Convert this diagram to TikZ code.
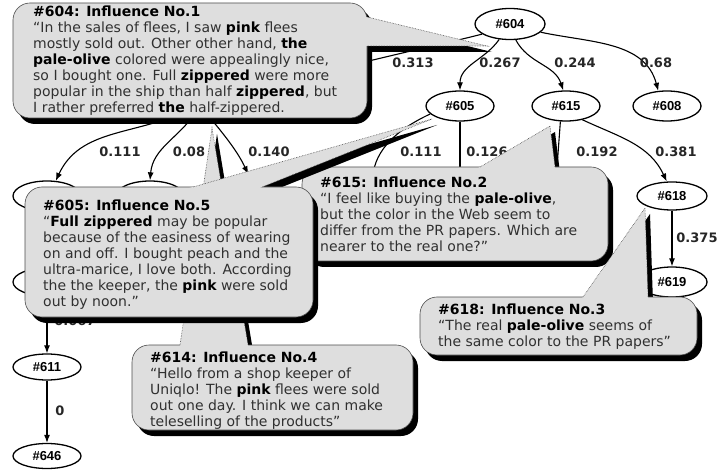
\documentclass[tikz,border=0pt]{standalone}
\usepackage{fontspec}
\setmainfont{DejaVu Sans}
\newfontfamily\labelfont{Liberation Sans}
\usetikzlibrary{arrows.meta,shapes.geometric,calc}
\definecolor{calloutgray}{RGB}{222,222,222}
\definecolor{bodytext}{RGB}{48,48,48}
\newcommand\kw[1]{{\bfseries\color{black}#1}}
% a rounded callout with a drop shadow and a wedge pointing at #1tip
\newcommand\drawcallout[1]{%
  \fill[calloutshadow,rounded corners=17pt] ([shift={(5,6)}]#1nw) rectangle ([shift={(5,6)}]#1se);
  \fill[calloutshadow] ([shift={(5,6)}]$(#1w1)!-5pt!(#1tip)$) -- ([shift={(5,6)}]#1tip) -- ([shift={(5,6)}]$(#1w2)!-5pt!(#1tip)$) -- cycle;
  \fill[calloutbody,rounded corners=17pt] (#1nw) rectangle (#1se);
  \draw[calloutrim,rounded corners=17pt] (#1nw) rectangle (#1se);
  \fill[calloutbody] ($(#1w1)!-5pt!(#1tip)$) -- (#1tip) -- ($(#1w2)!-5pt!(#1tip)$) -- cycle;
  \draw[wedgerim] (#1w1) -- (#1tip) -- (#1w2);
}
\begin{document}
\begin{tikzpicture}[x=1pt,y=-1pt,
  gnode/.style={ellipse,draw,line width=1.3pt,fill=white,minimum width=68pt,
    minimum height=30pt,inner sep=0pt,font=\labelfont\bfseries\fontsize{13pt}{13pt}\selectfont},
  edge/.style={line width=1.1pt,-{Latex[length=8pt,width=6pt]}},
  weight/.style={font=\bfseries\fontsize{13pt}{13pt}\selectfont,text=black!85,inner sep=0pt},
  calloutshadow/.style={fill=black},
  calloutbody/.style={fill=calloutgray},
  calloutrim/.style={draw=black!70,line width=0.6pt},
  wedgerim/.style={draw=black!70,line width=0.6pt,densely dotted},
  callouttext/.style={anchor=north west,inner sep=0pt,align=left,text=bodytext,
    font=\fontsize{14pt}{16pt}\selectfont}
]
\useasboundingbox (0,0) rectangle (717,470);
\clip (0,0) rectangle (717,470);

% ---------- graph ----------
\node[gnode,minimum width=70pt,minimum height=31pt] (n604) at (510,24) {\#604};
\node[gnode] (n605) at (460,106) {\#605};
\node[gnode] (n615) at (566,106) {\#615};
\node[gnode] (n608) at (667,106) {\#608};
\node[gnode,minimum width=70pt,minimum height=28pt] (n618) at (672,196) {\#618};
\node[gnode,minimum width=70pt] (n619) at (672,282) {\#619};
% nodes that sit behind the callouts
\node[gnode] (n614) at (200,97) {};
\node[gnode] (nA) at (47,196) {};
\node[gnode] (nB) at (150,196) {};
\node[gnode,minimum width=56pt,minimum height=26pt] (nC) at (252,196) {};
\node[gnode,minimum height=28pt] (nD) at (47,282) {};
\node[gnode] (nF) at (372,200) {};
\node[gnode] (nG) at (460,205) {};
\node[gnode] (nH) at (555,210) {};
\node[gnode,minimum height=26pt] (n611) at (47,367) {\#611};
\node[gnode,minimum height=25pt] (n646) at (47,456) {\#646};

\draw[edge] (n604.200) .. controls (440,45) and (330,68) .. (n614.east);
\draw[edge] (n604.235) to[out=235,in=90] (n605.north);
\draw[edge] (n604.290) to[out=-62,in=108] (n615.100);
\draw[edge] (n604.345) to[out=-12,in=105] (n608.120);
\draw[edge] (n605.195) to[out=205,in=85] (nF.north);
\draw[edge] (n605.south) -- (nG.north);
\draw[edge] (n615.250) -- (nH.north);
\draw[edge] (n615.320) to[out=-25,in=115] (n618.110);
\draw[edge] (n618.south) -- (n619.north);
\draw[edge] (n614.225) to[out=205,in=65] (nA.60);
\draw[edge] (n614.255) to[out=235,in=85] (nB.north);
\draw[edge,shorten >=9pt] (n614.290) to[out=-50,in=115] (nC.north);
\draw[edge] (nD.south) -- (n611.north);
\draw[edge] (n611.south) -- (n646.north);

\node[weight] (w313) at (413,63) {0.313};
\node[weight] (w267) at (500,63) {0.267};
\node[weight] (w244) at (575,63) {0.244};
\node[weight] (w68) at (656,63) {0.68};
\node[weight] (w111a) at (120,152) {0.111};
\node[weight] (w08) at (189,152) {0.08};
\node[weight] (w140) at (269,152) {0.140};
\node[weight] (w111b) at (421,152) {0.111};
\node[weight] (w126) at (487,152) {0.126};
\node[weight] (w192) at (597,152) {0.192};
\node[weight] (w381) at (676,152) {0.381};
\node[weight] (w375) at (697,238) {0.375};
\node[weight] (w067) at (75,321) {0.067};
\node[weight] (w0) at (60,411) {0};

% ---------- callouts ----------
\coordinate (b604nw) at (13,3);   \coordinate (b604se) at (367,118);
\coordinate (b604w1) at (367,17); \coordinate (b604w2) at (367,46);
\coordinate (b604tip) at (487,46);
\drawcallout{b604}
\node[callouttext] (t604) at (33,6) {\kw{\#604: Influence No.1}\\
  “In the sales of flees, I saw \kw{pink} flees\\
  mostly sold out. Other other hand, \kw{the}\\
  \kw{pale-olive} colored were appealingly nice,\\
  so I bought one. Full \kw{zippered} were more\\
  popular in the ship than half \kw{zippered}, but\\
  I rather preferred \kw{the} half-zippered.};

\coordinate (b614nw) at (132,345); \coordinate (b614se) at (413,430);
\coordinate (b614w1) at (180,345); \coordinate (b614w2) at (248,345);
\coordinate (b614tip) at (212,128);
\drawcallout{b614}
\node[callouttext] (t614) at (150,352) {\kw{\#614: Influence No.4}\\
  “Hello from a shop keeper of\\
  Uniqlo! The \kw{pink} flees were sold\\
  out one day. I think we can make\\
  teleselling of the products”};

\coordinate (b615nw) at (302,167); \coordinate (b615se) at (608,261);
\coordinate (b615w1) at (480,167); \coordinate (b615w2) at (555,167);
\coordinate (b615tip) at (550,126);
\drawcallout{b615}
\node[callouttext] (t615) at (320,177) {\kw{\#615: Influence No.2}\\
  “I feel like buying the \kw{pale-olive},\\
  but the color in the Web seem to\\
  differ from the PR papers. Which are\\
  nearer to the real one?”};

\coordinate (b605nw) at (25,187);  \coordinate (b605se) at (313,317);
\coordinate (b605w1) at (193,187); \coordinate (b605w2) at (262,187);
\coordinate (b605tip) at (432,119);
\drawcallout{b605}
\node[callouttext] (t605) at (43,200) {\kw{\#605: Influence No.5}\\
  “\kw{Full zippered} may be popular\\
  because of the easiness of wearing\\
  on and off. I bought peach and the\\
  ultra-marice, I love both. According\\
  the the keeper, the \kw{pink} were sold\\
  out by noon.”};

\coordinate (b618nw) at (420,297); \coordinate (b618se) at (697,355);
\coordinate (b618w1) at (583,297); \coordinate (b618w2) at (648,297);
\coordinate (b618tip) at (645,208);
\drawcallout{b618}
\node[callouttext] (t618) at (438,304) {\kw{\#618: Influence No.3}\\
  “The real \kw{pale-olive} seems of\\
  the same color to the PR papers”};
\end{tikzpicture}
\end{document}
